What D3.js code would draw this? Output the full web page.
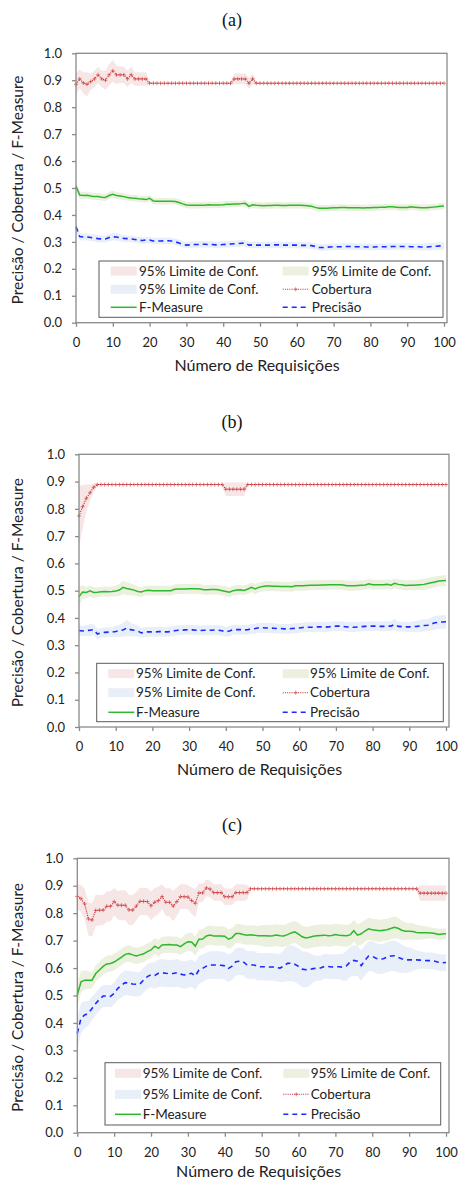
<!DOCTYPE html>
<html>
<head>
<meta charset="utf-8">
<script src="https://cdn.jsdelivr.net/npm/d3@7"></script>
<style>
    body { margin: 0; background: #fff; }
    svg { display: block; font-family: Lato, "Open Sans", sans-serif; }
</style>
</head>
<body>
<svg id="chart" width="460" height="1180"></svg>
<script>
// three stacked panels, same axes, same legend

const xTicks = [0, 10, 20, 30, 40, 50, 60, 70, 80, 90, 100];
const yTicks = [0.0, 0.1, 0.2, 0.3, 0.4, 0.5, 0.6, 0.7, 0.8, 0.9, 1.0];
const panelTitles = ["(a)", "(b)", "(c)"];
const xLabel = "Número de Requisições";
const yLabel = "Precisão / Cobertura / F-Measure";
const ciLabel = "95% Limite de Conf.";
const seriesNames = ["Cobertura", "F-Measure", "Precisão"];

// ---- panel (a) ----
const aCob = [0.885, 0.905, 0.890, 0.885, 0.895, 0.905, 0.920, 0.905, 0.900, 0.920,
    0.935, 0.920, 0.920, 0.920, 0.905, 0.920, 0.905, 0.905, 0.905, 0.905,
    0.889, 0.889, 0.889, 0.889, 0.889, 0.889, 0.889, 0.889, 0.889, 0.889,
    0.889, 0.889, 0.889, 0.889, 0.889, 0.889, 0.889, 0.889, 0.889, 0.889,
    0.889, 0.889, 0.889, 0.905, 0.905, 0.905, 0.905, 0.889, 0.905, 0.889,
    0.889, 0.889, 0.889, 0.889, 0.889, 0.889, 0.889, 0.889, 0.889, 0.889,
    0.889, 0.889, 0.889, 0.889, 0.889, 0.889, 0.889, 0.889, 0.889, 0.889,
    0.889, 0.889, 0.889, 0.889, 0.889, 0.889, 0.889, 0.889, 0.889, 0.889,
    0.889, 0.889, 0.889, 0.889, 0.889, 0.889, 0.889, 0.889, 0.889, 0.889,
    0.889, 0.889, 0.889, 0.889, 0.889, 0.889, 0.889, 0.889, 0.889, 0.889, 0.889];
const aCobCI = [0.040, 0.035, 0.040, 0.045, 0.030, 0.030, 0.030, 0.030, 0.035, 0.040,
    0.040, 0.035, 0.030, 0.030, 0.030, 0.030, 0.025, 0.025, 0.025, 0.025,
    0.005, 0, 0, 0, 0, 0, 0, 0, 0, 0,
    0, 0, 0, 0, 0, 0, 0, 0, 0, 0,
    0, 0, 0.005, 0.020, 0.020, 0.020, 0.020, 0.020, 0.020, 0.005,
    0, 0, 0, 0, 0, 0, 0, 0, 0, 0,
    0, 0, 0, 0, 0, 0, 0, 0, 0, 0,
    0, 0, 0, 0, 0, 0, 0, 0, 0, 0,
    0, 0, 0, 0, 0, 0, 0, 0, 0, 0,
    0, 0, 0, 0, 0, 0, 0, 0, 0, 0, 0];
const aF = [0.507, 0.474, 0.472, 0.473, 0.470, 0.468, 0.468, 0.466, 0.465, 0.472,
    0.477, 0.472, 0.470, 0.468, 0.465, 0.463, 0.462, 0.460, 0.459, 0.457,
    0.462, 0.452, 0.451, 0.451, 0.451, 0.451, 0.451, 0.450, 0.446, 0.441,
    0.437, 0.436, 0.436, 0.436, 0.436, 0.436, 0.438, 0.437, 0.437, 0.437,
    0.438, 0.440, 0.440, 0.441, 0.441, 0.442, 0.443, 0.432, 0.438, 0.436,
    0.435, 0.434, 0.435, 0.435, 0.436, 0.436, 0.435, 0.435, 0.436, 0.436,
    0.436, 0.436, 0.435, 0.434, 0.432, 0.428, 0.425, 0.425, 0.425, 0.426,
    0.427, 0.427, 0.428, 0.428, 0.427, 0.427, 0.427, 0.427, 0.426, 0.427,
    0.427, 0.428, 0.428, 0.429, 0.429, 0.430, 0.430, 0.429, 0.428, 0.428,
    0.428, 0.430, 0.429, 0.428, 0.427, 0.427, 0.428, 0.429, 0.430, 0.432, 0.433];
const aFCI = [0.016, 0.014, 0.013, 0.013, 0.013, 0.013, 0.013, 0.013, 0.013, 0.013,
    0.013, 0.013, 0.013, 0.013, 0.012, 0.012, 0.012, 0.012, 0.012, 0.012,
    0.012, 0.012, 0.012, 0.012, 0.012, 0.012, 0.012, 0.012, 0.012, 0.012,
    0.012, 0.012, 0.012, 0.012, 0.012, 0.012, 0.012, 0.012, 0.012, 0.012,
    0.012, 0.012, 0.012, 0.012, 0.012, 0.012, 0.012, 0.012, 0.012, 0.012,
    0.012, 0.012, 0.012, 0.012, 0.012, 0.012, 0.012, 0.012, 0.012, 0.012,
    0.012, 0.012, 0.012, 0.012, 0.012, 0.012, 0.012, 0.012, 0.012, 0.012,
    0.012, 0.012, 0.012, 0.012, 0.012, 0.012, 0.012, 0.012, 0.012, 0.012,
    0.012, 0.012, 0.012, 0.012, 0.012, 0.012, 0.012, 0.012, 0.012, 0.012,
    0.012, 0.012, 0.012, 0.012, 0.012, 0.012, 0.012, 0.012, 0.012, 0.012, 0.012];
const aPrec = [0.356, 0.320, 0.318, 0.318, 0.316, 0.314, 0.312, 0.311, 0.311, 0.316,
    0.319, 0.318, 0.315, 0.313, 0.312, 0.311, 0.309, 0.306, 0.305, 0.307,
    0.307, 0.303, 0.303, 0.303, 0.304, 0.304, 0.303, 0.300, 0.296, 0.291,
    0.288, 0.289, 0.290, 0.290, 0.291, 0.291, 0.290, 0.290, 0.289, 0.289,
    0.290, 0.291, 0.292, 0.293, 0.294, 0.295, 0.296, 0.288, 0.289, 0.288,
    0.288, 0.288, 0.288, 0.288, 0.289, 0.289, 0.288, 0.288, 0.288, 0.288,
    0.288, 0.287, 0.287, 0.287, 0.286, 0.283, 0.279, 0.279, 0.280, 0.281,
    0.282, 0.282, 0.282, 0.283, 0.283, 0.283, 0.282, 0.282, 0.282, 0.281,
    0.281, 0.281, 0.282, 0.282, 0.282, 0.282, 0.283, 0.283, 0.283, 0.283,
    0.283, 0.282, 0.282, 0.282, 0.281, 0.281, 0.282, 0.283, 0.284, 0.285, 0.285];
const aPrecCI = [0.020, 0.014, 0.013, 0.013, 0.013, 0.013, 0.013, 0.013, 0.013, 0.014,
    0.014, 0.013, 0.013, 0.013, 0.012, 0.012, 0.012, 0.012, 0.012, 0.012,
    0.012, 0.012, 0.012, 0.012, 0.012, 0.012, 0.012, 0.012, 0.012, 0.012,
    0.012, 0.012, 0.012, 0.012, 0.012, 0.012, 0.012, 0.012, 0.012, 0.012,
    0.012, 0.012, 0.012, 0.012, 0.012, 0.012, 0.012, 0.012, 0.012, 0.012,
    0.012, 0.012, 0.012, 0.012, 0.012, 0.012, 0.012, 0.012, 0.012, 0.012,
    0.012, 0.012, 0.012, 0.012, 0.012, 0.012, 0.012, 0.012, 0.012, 0.012,
    0.012, 0.012, 0.012, 0.012, 0.012, 0.012, 0.012, 0.012, 0.012, 0.012,
    0.012, 0.012, 0.012, 0.012, 0.012, 0.012, 0.012, 0.012, 0.012, 0.012,
    0.012, 0.012, 0.012, 0.012, 0.013, 0.013, 0.014, 0.014, 0.014, 0.014, 0.014];

// ---- panel (b) ----
const bCob = [0.774, 0.808, 0.839, 0.859, 0.879, 0.889, 0.889, 0.889, 0.889, 0.889,
    0.889, 0.889, 0.889, 0.889, 0.889, 0.889, 0.889, 0.889, 0.889, 0.889,
    0.889, 0.889, 0.889, 0.889, 0.889, 0.889, 0.889, 0.889, 0.889, 0.889,
    0.889, 0.889, 0.889, 0.889, 0.889, 0.889, 0.889, 0.889, 0.889, 0.889,
    0.872, 0.872, 0.872, 0.872, 0.872, 0.872, 0.889, 0.889, 0.889, 0.889,
    0.889, 0.889, 0.889, 0.889, 0.889, 0.889, 0.889, 0.889, 0.889, 0.889,
    0.889, 0.889, 0.889, 0.889, 0.889, 0.889, 0.889, 0.889, 0.889, 0.889,
    0.889, 0.889, 0.889, 0.889, 0.889, 0.889, 0.889, 0.889, 0.889, 0.889,
    0.889, 0.889, 0.889, 0.889, 0.889, 0.889, 0.889, 0.889, 0.889, 0.889,
    0.889, 0.889, 0.889, 0.889, 0.889, 0.889, 0.889, 0.889, 0.889, 0.889, 0.889];
const bCobCI = [0.110, 0.080, 0.050, 0.030, 0.015, 0.005, 0, 0, 0, 0,
    0, 0, 0, 0, 0, 0, 0, 0, 0, 0,
    0, 0, 0, 0, 0, 0, 0, 0, 0, 0,
    0, 0, 0, 0, 0, 0, 0, 0, 0, 0.005,
    0.025, 0.025, 0.025, 0.025, 0.025, 0.025, 0.005, 0, 0, 0,
    0, 0, 0, 0, 0, 0, 0, 0, 0, 0,
    0, 0, 0, 0, 0, 0, 0, 0, 0, 0,
    0, 0, 0, 0, 0, 0, 0, 0, 0, 0,
    0, 0, 0, 0, 0, 0, 0, 0, 0, 0,
    0, 0, 0, 0, 0, 0, 0, 0, 0, 0, 0];
const bF = [0.478, 0.495, 0.493, 0.499, 0.493, 0.494, 0.496, 0.497, 0.496, 0.497,
    0.499, 0.502, 0.512, 0.508, 0.505, 0.502, 0.497, 0.495, 0.500, 0.501,
    0.500, 0.500, 0.500, 0.500, 0.500, 0.500, 0.505, 0.506, 0.506, 0.506,
    0.507, 0.507, 0.507, 0.506, 0.503, 0.503, 0.504, 0.504, 0.503, 0.500,
    0.497, 0.494, 0.500, 0.502, 0.503, 0.501, 0.506, 0.512, 0.506, 0.512,
    0.515, 0.517, 0.517, 0.516, 0.516, 0.515, 0.515, 0.515, 0.514, 0.518,
    0.518, 0.518, 0.519, 0.520, 0.520, 0.520, 0.521, 0.521, 0.522, 0.522,
    0.522, 0.522, 0.521, 0.518, 0.518, 0.518, 0.519, 0.520, 0.521, 0.525,
    0.522, 0.522, 0.522, 0.522, 0.523, 0.520, 0.527, 0.523, 0.522, 0.519,
    0.520, 0.520, 0.521, 0.522, 0.523, 0.526, 0.529, 0.532, 0.535, 0.536, 0.537];
const bFCI = [0.035, 0.025, 0.020, 0.020, 0.020, 0.018, 0.018, 0.018, 0.018, 0.018,
    0.020, 0.022, 0.025, 0.024, 0.022, 0.020, 0.018, 0.018, 0.018, 0.018,
    0.018, 0.018, 0.018, 0.018, 0.018, 0.018, 0.018, 0.018, 0.018, 0.018,
    0.018, 0.018, 0.018, 0.018, 0.018, 0.018, 0.018, 0.018, 0.018, 0.018,
    0.018, 0.018, 0.018, 0.018, 0.018, 0.018, 0.018, 0.018, 0.018, 0.018,
    0.018, 0.018, 0.018, 0.018, 0.018, 0.018, 0.018, 0.018, 0.018, 0.018,
    0.018, 0.018, 0.018, 0.018, 0.018, 0.018, 0.018, 0.018, 0.018, 0.018,
    0.018, 0.018, 0.018, 0.018, 0.018, 0.018, 0.018, 0.018, 0.018, 0.018,
    0.018, 0.018, 0.018, 0.018, 0.018, 0.018, 0.018, 0.018, 0.018, 0.018,
    0.018, 0.019, 0.019, 0.020, 0.020, 0.020, 0.020, 0.020, 0.020, 0.020, 0.020];
const bPrec = [0.354, 0.352, 0.354, 0.355, 0.357, 0.341, 0.345, 0.347, 0.348, 0.348,
    0.350, 0.353, 0.356, 0.363, 0.357, 0.355, 0.352, 0.345, 0.349, 0.349,
    0.349, 0.349, 0.350, 0.349, 0.349, 0.350, 0.353, 0.355, 0.355, 0.356,
    0.357, 0.356, 0.355, 0.354, 0.355, 0.355, 0.355, 0.356, 0.355, 0.353,
    0.349, 0.352, 0.357, 0.357, 0.357, 0.356, 0.357, 0.359, 0.361, 0.364,
    0.364, 0.363, 0.363, 0.362, 0.361, 0.361, 0.360, 0.360, 0.361, 0.362,
    0.363, 0.365, 0.366, 0.366, 0.366, 0.367, 0.367, 0.366, 0.367, 0.369,
    0.370, 0.370, 0.369, 0.367, 0.366, 0.366, 0.367, 0.368, 0.369, 0.370,
    0.370, 0.370, 0.369, 0.369, 0.370, 0.370, 0.376, 0.369, 0.368, 0.367,
    0.367, 0.368, 0.369, 0.371, 0.372, 0.373, 0.378, 0.382, 0.384, 0.385, 0.386];
const bPrecCI = [0.020, 0.018, 0.020, 0.022, 0.020, 0.018, 0.018, 0.018, 0.018, 0.018,
    0.020, 0.022, 0.026, 0.030, 0.025, 0.022, 0.020, 0.018, 0.018, 0.018,
    0.018, 0.018, 0.018, 0.018, 0.018, 0.018, 0.018, 0.018, 0.018, 0.018,
    0.018, 0.018, 0.018, 0.018, 0.018, 0.018, 0.018, 0.018, 0.018, 0.018,
    0.018, 0.018, 0.018, 0.018, 0.018, 0.018, 0.018, 0.018, 0.018, 0.018,
    0.018, 0.018, 0.018, 0.018, 0.018, 0.018, 0.018, 0.018, 0.018, 0.018,
    0.018, 0.018, 0.018, 0.018, 0.018, 0.018, 0.018, 0.018, 0.018, 0.018,
    0.018, 0.018, 0.018, 0.018, 0.018, 0.018, 0.018, 0.018, 0.018, 0.018,
    0.018, 0.018, 0.018, 0.018, 0.018, 0.018, 0.020, 0.018, 0.018, 0.018,
    0.018, 0.020, 0.020, 0.022, 0.022, 0.022, 0.024, 0.025, 0.025, 0.025, 0.025];

// ---- panel (c) ----
const cCob = [0.861, 0.853, 0.834, 0.779, 0.775, 0.810, 0.811, 0.811, 0.825, 0.825,
    0.842, 0.829, 0.829, 0.829, 0.812, 0.811, 0.826, 0.843, 0.843, 0.842,
    0.827, 0.840, 0.846, 0.860, 0.840, 0.840, 0.826, 0.842, 0.860, 0.860,
    0.859, 0.846, 0.836, 0.874, 0.874, 0.892, 0.888, 0.875, 0.875, 0.875,
    0.860, 0.860, 0.860, 0.875, 0.875, 0.875, 0.875, 0.889, 0.889, 0.889,
    0.889, 0.889, 0.889, 0.889, 0.889, 0.889, 0.889, 0.889, 0.889, 0.889,
    0.889, 0.889, 0.889, 0.889, 0.889, 0.889, 0.889, 0.889, 0.889, 0.889,
    0.889, 0.889, 0.889, 0.889, 0.889, 0.889, 0.889, 0.889, 0.889, 0.889,
    0.889, 0.889, 0.889, 0.889, 0.889, 0.889, 0.889, 0.889, 0.889, 0.889,
    0.889, 0.889, 0.889, 0.873, 0.873, 0.873, 0.873, 0.873, 0.873, 0.873, 0.873];
const cCobCI = [0.045, 0.050, 0.055, 0.060, 0.060, 0.058, 0.055, 0.055, 0.055, 0.055,
    0.050, 0.052, 0.055, 0.055, 0.055, 0.055, 0.052, 0.050, 0.050, 0.050,
    0.052, 0.052, 0.050, 0.045, 0.050, 0.052, 0.055, 0.052, 0.045, 0.045,
    0.045, 0.048, 0.050, 0.035, 0.032, 0.030, 0.030, 0.030, 0.030, 0.030,
    0.030, 0.030, 0.030, 0.030, 0.030, 0.030, 0.028, 0.005, 0, 0,
    0, 0, 0, 0, 0, 0, 0, 0, 0, 0,
    0, 0, 0, 0, 0, 0, 0, 0, 0, 0,
    0, 0, 0, 0, 0, 0, 0, 0, 0, 0,
    0, 0, 0, 0, 0, 0, 0, 0, 0, 0,
    0, 0, 0.005, 0.028, 0.028, 0.028, 0.028, 0.028, 0.028, 0.028, 0.028];
const cF = [0.502, 0.550, 0.556, 0.556, 0.556, 0.580, 0.593, 0.606, 0.615, 0.617,
    0.622, 0.631, 0.640, 0.650, 0.653, 0.648, 0.644, 0.648, 0.652, 0.660,
    0.666, 0.680, 0.672, 0.684, 0.685, 0.686, 0.684, 0.684, 0.678, 0.688,
    0.696, 0.695, 0.680, 0.705, 0.706, 0.717, 0.720, 0.717, 0.717, 0.717,
    0.716, 0.705, 0.711, 0.726, 0.726, 0.722, 0.720, 0.721, 0.720, 0.718,
    0.718, 0.718, 0.717, 0.718, 0.720, 0.718, 0.717, 0.722, 0.728, 0.732,
    0.724, 0.714, 0.710, 0.712, 0.716, 0.718, 0.719, 0.720, 0.718, 0.719,
    0.722, 0.720, 0.719, 0.718, 0.721, 0.736, 0.720, 0.725, 0.735, 0.743,
    0.740, 0.738, 0.736, 0.738, 0.740, 0.744, 0.749, 0.745, 0.738, 0.734,
    0.734, 0.733, 0.730, 0.729, 0.729, 0.729, 0.728, 0.726, 0.722, 0.724, 0.725];
const cFCI = [0.045, 0.040, 0.035, 0.032, 0.030, 0.030, 0.030, 0.030, 0.030, 0.030,
    0.030, 0.030, 0.030, 0.030, 0.030, 0.030, 0.030, 0.030, 0.030, 0.030,
    0.030, 0.030, 0.030, 0.030, 0.030, 0.030, 0.030, 0.030, 0.030, 0.032,
    0.032, 0.035, 0.035, 0.035, 0.035, 0.035, 0.035, 0.035, 0.035, 0.035,
    0.035, 0.035, 0.035, 0.035, 0.035, 0.035, 0.035, 0.035, 0.035, 0.035,
    0.038, 0.040, 0.040, 0.040, 0.040, 0.040, 0.040, 0.040, 0.040, 0.040,
    0.040, 0.040, 0.040, 0.040, 0.040, 0.040, 0.040, 0.040, 0.040, 0.040,
    0.040, 0.040, 0.040, 0.040, 0.040, 0.040, 0.040, 0.040, 0.040, 0.040,
    0.040, 0.040, 0.040, 0.040, 0.040, 0.040, 0.040, 0.038, 0.035, 0.032,
    0.030, 0.030, 0.028, 0.026, 0.024, 0.022, 0.020, 0.020, 0.020, 0.020, 0.020];
const cPrec = [0.362, 0.417, 0.429, 0.435, 0.453, 0.471, 0.486, 0.498, 0.498, 0.497,
    0.508, 0.526, 0.538, 0.547, 0.545, 0.542, 0.541, 0.542, 0.557, 0.569,
    0.575, 0.573, 0.581, 0.583, 0.581, 0.580, 0.580, 0.583, 0.578, 0.575,
    0.578, 0.581, 0.571, 0.593, 0.599, 0.607, 0.611, 0.611, 0.611, 0.610,
    0.608, 0.599, 0.607, 0.623, 0.625, 0.623, 0.612, 0.611, 0.611, 0.605,
    0.605, 0.605, 0.604, 0.604, 0.602, 0.600, 0.607, 0.617, 0.618, 0.614,
    0.606, 0.596, 0.594, 0.595, 0.598, 0.600, 0.600, 0.606, 0.606, 0.604,
    0.605, 0.605, 0.603, 0.608, 0.622, 0.628, 0.625, 0.609, 0.628, 0.644,
    0.643, 0.636, 0.632, 0.634, 0.640, 0.644, 0.645, 0.639, 0.634, 0.630,
    0.630, 0.630, 0.630, 0.629, 0.628, 0.627, 0.627, 0.625, 0.621, 0.619, 0.620];
const cPrecCI = [0.060, 0.055, 0.050, 0.045, 0.042, 0.040, 0.040, 0.040, 0.040, 0.040,
    0.040, 0.042, 0.045, 0.045, 0.045, 0.045, 0.045, 0.045, 0.045, 0.045,
    0.045, 0.048, 0.050, 0.050, 0.050, 0.050, 0.050, 0.050, 0.050, 0.050,
    0.050, 0.050, 0.050, 0.050, 0.050, 0.050, 0.050, 0.050, 0.050, 0.050,
    0.050, 0.050, 0.050, 0.050, 0.050, 0.050, 0.050, 0.050, 0.050, 0.050,
    0.050, 0.050, 0.050, 0.050, 0.050, 0.052, 0.058, 0.065, 0.065, 0.065,
    0.065, 0.065, 0.065, 0.060, 0.050, 0.045, 0.045, 0.045, 0.045, 0.045,
    0.045, 0.045, 0.048, 0.055, 0.055, 0.055, 0.055, 0.055, 0.055, 0.055,
    0.055, 0.055, 0.055, 0.055, 0.055, 0.055, 0.055, 0.055, 0.052, 0.048,
    0.045, 0.040, 0.035, 0.032, 0.030, 0.030, 0.030, 0.030, 0.030, 0.030, 0.030];

// layout of each panel on the page (pixels)
const panelLayout = [
    { x0: 76, x1: 444, yTop: 53.3, yBot: 322.7, titleY: 20, tickY: 20, labelY: 43,
      legend: { x: 99, y: 261, w: 344, h: 56.3, c1: 11.7, c1t: 40, c2: 183.7, c2t: 212.7, rows: [10, 28.3, 46.3] } },
    { x0: 79, x1: 446, yTop: 454.3, yBot: 727, titleY: 421.7, tickY: 19.7, labelY: 42.3,
      legend: { x: 96.7, y: 663.3, w: 346.6, h: 58.4, c1: 11.6, c1t: 39.3, c2: 186, c2t: 213.3, rows: [10.4, 29.4, 49] } },
    { x0: 77.3, x1: 446, yTop: 858.3, yBot: 1132.7, titleY: 825, tickY: 19, labelY: 39,
      legend: { x: 105, y: 1062.7, w: 335.7, h: 62.3, c1: 10, c1t: 37.7, c2: 178.3, c2t: 205.7, rows: [10.6, 31.6, 51.6] } }
];

const panelData = [
    { cob: aCob, cobCI: aCobCI, f: aF, fCI: aFCI, prec: aPrec, precCI: aPrecCI },
    { cob: bCob, cobCI: bCobCI, f: bF, fCI: bFCI, prec: bPrec, precCI: bPrecCI },
    { cob: cCob, cobCI: cCobCI, f: cF, fCI: cFCI, prec: cPrec, precCI: cPrecCI }
];

// colours
const colCob = "#c0262b";
const colCobMark = "#d85a5a";
const colF = "#2db82d";
const colPrec = "#1b2bff";
const bandCob = "#f6e6e6";
const bandF = "#ebf1de";
const bandPrec = "#e9eff8";
const axisGray = "#8a8a8a";
const textCol = "#222";

const plusPath = "M-2,0H2M0,-2V2";

const svg = d3.select("#chart");

function toPoints(vals, ci) {
    return vals.map(function (v, i) {
        return { x: i, v: v, ci: ci[i] };
    });
}

function drawPanel(k) {
    const L = panelLayout[k];
    const D = panelData[k];
    const g = svg.append("g");

    const x = d3.scaleLinear().domain([0, 100]).range([L.x0, L.x1]);
    const y = d3.scaleLinear().domain([0, 1]).range([L.yBot, L.yTop]);

    // title
    g.append("text")
        .attr("x", 232)
        .attr("y", L.titleY)
        .attr("dy", "0.33em")
        .attr("text-anchor", "middle")
        .style("font-family", "'Liberation Serif', 'DejaVu Serif', serif")
        .style("font-size", "18px")
        .attr("fill", "#111")
        .text(panelTitles[k]);

    const area = d3.area()
        .x(function (d) { return x(d.x); })
        .y0(function (d) { return y(d.v - d.ci); })
        .y1(function (d) { return y(d.v + d.ci); });

    const line = d3.line()
        .x(function (d) { return x(d.x); })
        .y(function (d) { return y(d.v); });

    const cob = toPoints(D.cob, D.cobCI);
    const f = toPoints(D.f, D.fCI);
    const prec = toPoints(D.prec, D.precCI);

    // bands
    g.append("path").datum(cob).attr("d", area).attr("fill", bandCob);
    g.append("path").datum(f).attr("d", area).attr("fill", bandF);
    g.append("path").datum(prec).attr("d", area).attr("fill", bandPrec);

    // lines
    g.append("path").datum(f).attr("d", line)
        .attr("fill", "none").attr("stroke", colF).attr("stroke-width", 1.5);
    g.append("path").datum(prec).attr("d", line)
        .attr("fill", "none").attr("stroke", colPrec).attr("stroke-width", 1.6)
        .attr("stroke-dasharray", "5,4");
    g.append("g")
        .selectAll("path")
        .data(cob)
        .enter()
        .append("path")
        .attr("transform", function (d) { return "translate(" + x(d.x) + "," + y(d.v) + ")"; })
        .attr("d", plusPath)
        .attr("stroke", colCobMark)
        .attr("stroke-width", 0.8)
        .attr("fill", "none");
    g.append("path").datum(cob).attr("d", line)
        .attr("fill", "none").attr("stroke", colCob).attr("stroke-width", 1.1)
        .attr("stroke-dasharray", "1,1.2");

    // frame
    g.append("rect")
        .attr("x", L.x0).attr("y", L.yTop)
        .attr("width", L.x1 + 3 - L.x0).attr("height", L.yBot - L.yTop)
        .attr("fill", "none").attr("stroke", axisGray).attr("stroke-width", 1.3);

    // axes
    const yAxis = g.append("g")
        .attr("transform", "translate(" + L.x0 + ",0)")
        .call(d3.axisLeft(y).tickValues(yTicks).tickFormat(d3.format(".1f"))
            .tickSize(4).tickSizeOuter(0).tickPadding(10));
    const xAxis = g.append("g")
        .attr("transform", "translate(0," + L.yBot + ")")
        .call(d3.axisBottom(x).tickValues(xTicks).tickFormat(d3.format("d"))
            .tickSize(4).tickSizeOuter(0).tickPadding(11));

    [yAxis, xAxis].forEach(function (ax) {
        ax.select(".domain").remove();
        ax.selectAll(".tick line").attr("stroke", axisGray).attr("stroke-width", 1.3);
        ax.selectAll(".tick text")
            .attr("fill", textCol)
            .style("font-family", "Lato, 'Open Sans', sans-serif")
            .style("font-size", "13px");
    });

    // axis titles
    g.append("text")
        .attr("x", (L.x0 + L.x1) / 2 - 3)
        .attr("y", L.yBot + L.labelY)
        .attr("dy", "0.35em")
        .attr("text-anchor", "middle")
        .attr("fill", textCol)
        .style("font-size", "16px")
        .text(xLabel);
    g.append("text")
        .attr("transform", "translate(22.5," + ((L.yTop + L.yBot) / 2 + 2) + ") rotate(-90)")
        .attr("text-anchor", "middle")
        .attr("fill", textCol)
        .style("font-size", "15.5px")
        .text(yLabel);

    drawLegend(g, L.legend);
}

function drawLegend(g, lg) {
    const box = g.append("g").attr("transform", "translate(" + lg.x + "," + lg.y + ")");
    box.append("rect")
        .attr("width", lg.w).attr("height", lg.h)
        .attr("fill", "#fff").attr("stroke", "#5a5a5a").attr("stroke-width", 1);

    const sw = 26;
    const items = [
        { col: 0, row: 0, kind: "band", fill: bandCob, label: ciLabel },
        { col: 1, row: 0, kind: "band", fill: bandF, label: ciLabel },
        { col: 0, row: 1, kind: "band", fill: bandPrec, label: ciLabel },
        { col: 1, row: 1, kind: "cob", label: seriesNames[0] },
        { col: 0, row: 2, kind: "f", label: seriesNames[1] },
        { col: 1, row: 2, kind: "prec", label: seriesNames[2] }
    ];

    items.forEach(function (it) {
        const sx = it.col === 0 ? lg.c1 : lg.c2;
        const tx = it.col === 0 ? lg.c1t : lg.c2t;
        const cy = lg.rows[it.row];
        if (it.kind === "band") {
            box.append("rect").attr("x", sx).attr("y", cy - 4.5)
                .attr("width", sw).attr("height", 9).attr("fill", it.fill);
        } else if (it.kind === "cob") {
            box.append("line").attr("x1", sx).attr("x2", sx + sw).attr("y1", cy).attr("y2", cy)
                .attr("stroke", colCob).attr("stroke-width", 1.1).attr("stroke-dasharray", "1,1.2");
            box.append("path").attr("transform", "translate(" + (sx + sw / 2) + "," + cy + ")")
                .attr("d", plusPath).attr("stroke", colCobMark).attr("stroke-width", 0.8);
        } else if (it.kind === "f") {
            box.append("line").attr("x1", sx).attr("x2", sx + sw).attr("y1", cy).attr("y2", cy)
                .attr("stroke", colF).attr("stroke-width", 1.5);
        } else {
            box.append("line").attr("x1", sx).attr("x2", sx + sw).attr("y1", cy).attr("y2", cy)
                .attr("stroke", colPrec).attr("stroke-width", 1.6).attr("stroke-dasharray", "5,4");
        }
        box.append("text")
            .attr("x", tx).attr("y", cy).attr("dy", "0.35em")
            .attr("fill", textCol)
            .style("font-size", "13.5px")
            .text(it.label);
    });
}

drawPanel(0);
drawPanel(1);
drawPanel(2);
</script>
</body>
</html>
